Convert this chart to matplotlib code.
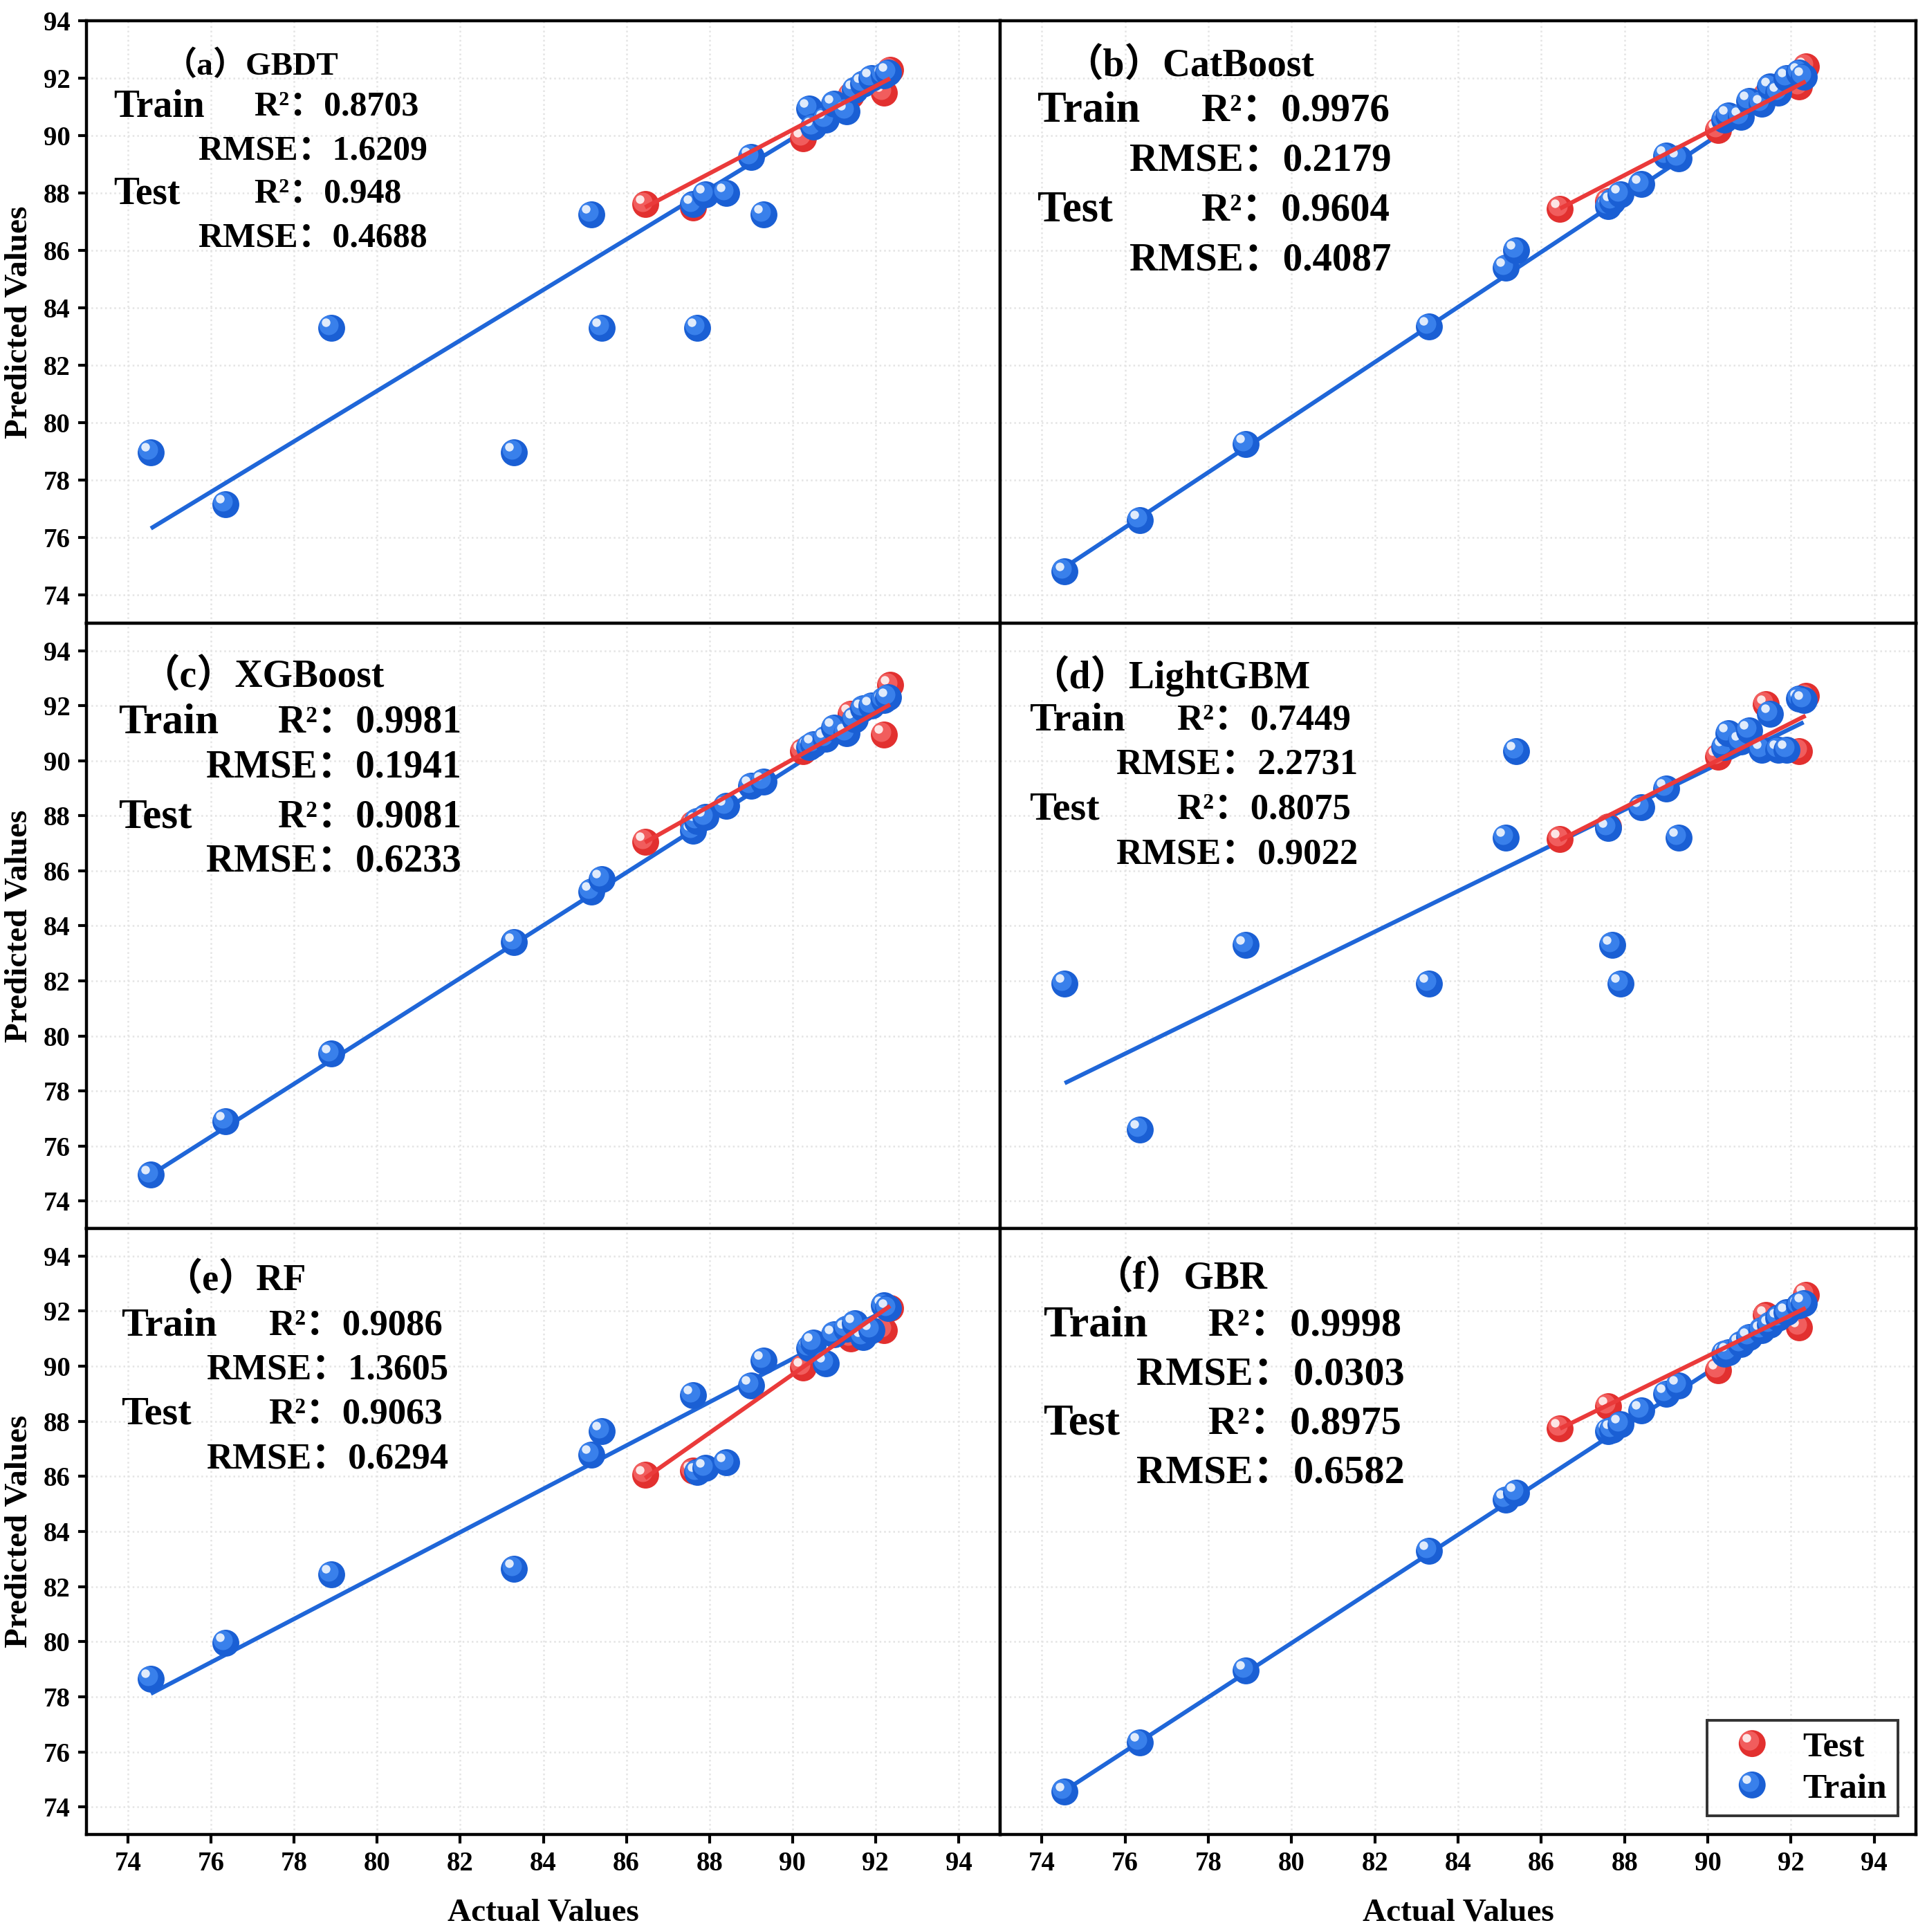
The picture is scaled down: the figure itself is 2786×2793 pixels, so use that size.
import numpy as np
import matplotlib
matplotlib.use("Agg")
import matplotlib.pyplot as plt
from matplotlib.transforms import ScaledTranslation
from matplotlib.legend_handler import HandlerBase
from matplotlib.patches import Circle
from matplotlib.lines import Line2D

plt.rcParams["font.family"] = ["Liberation Serif", "Noto Sans CJK SC"]
plt.rcParams["font.weight"] = "bold"

# ---- data ----
models = ["GBDT", "CatBoost", "XGBoost", "LightGBM", "RF", "GBR"]
letters = ["a", "b", "c", "d", "e", "f"]

train_actual = [74.55, 76.35, 78.9, 83.3, 85.15, 85.4, 87.6, 87.7, 87.9, 88.4, 89.0,
                89.3, 90.4, 90.5, 90.8, 91.0, 91.3, 91.5, 91.7, 91.9, 92.2, 92.3]
test_actual = [86.45, 87.6, 90.25, 91.4, 92.2, 92.35]

gbdt_train = [78.95, 77.15, 83.3, 78.95, 87.25, 83.3, 87.6, 83.3, 87.95, 88.0, 89.25,
              87.25, 90.95, 90.3, 90.55, 91.1, 90.85, 91.6, 91.8, 92.0, 92.1, 92.2]
gbdt_test = [87.6, 87.5, 89.9, 91.4, 91.5, 92.3]

catboost_train = [74.8, 76.6, 79.25, 83.35, 85.4, 86.0, 87.55, 87.7, 87.95, 88.3, 89.3,
                  89.2, 90.55, 90.7, 90.65, 91.2, 91.1, 91.7, 91.5, 92.0, 92.2, 92.05]
catboost_test = [87.45, 87.7, 90.2, 91.4, 91.7, 92.4]

xgb_train = [74.95, 76.9, 79.35, 83.4, 85.25, 85.7, 87.45, 87.8, 87.95, 88.35, 89.1,
             89.25, 90.5, 90.6, 90.8, 91.2, 91.0, 91.5, 91.9, 92.0, 92.2, 92.3]
xgb_test = [87.05, 87.7, 90.35, 91.7, 90.95, 92.75]

lgbm_train = [81.9, 76.6, 83.3, 81.9, 87.2, 90.35, 87.55, 83.3, 81.9, 88.3, 89.0,
              87.2, 90.5, 91.0, 90.7, 91.1, 90.4, 91.7, 90.4, 90.4, 92.25, 92.2]
lgbm_test = [87.15, 87.6, 90.15, 92.05, 90.35, 92.35]

rf_train = [78.65, 79.95, 82.45, 82.65, 86.8, 87.65, 88.95, 86.15, 86.3, 86.5, 89.3,
            90.2, 90.65, 90.85, 90.1, 91.15, 91.35, 91.55, 91.05, 91.3, 92.2, 92.1]
rf_test = [86.05, 86.2, 89.95, 91.0, 91.3, 92.1]

gbr_train = [74.55, 76.35, 78.95, 83.3, 85.15, 85.4, 87.65, 87.7, 87.9, 88.4, 89.0,
             89.3, 90.45, 90.5, 90.8, 91.05, 91.3, 91.5, 91.75, 91.95, 92.2, 92.3]
gbr_test = [87.75, 88.55, 89.85, 91.85, 91.4, 92.6]

train_preds = [gbdt_train, catboost_train, xgb_train, lgbm_train, rf_train, gbr_train]
test_preds = [gbdt_test, catboost_test, xgb_test, lgbm_test, rf_test, gbr_test]

# fitted lines as drawn (slope, intercept)
train_fit = [(0.880, 10.70), (0.960, 3.38), (0.960, 3.38), (0.739, 23.19), (0.787, 19.44), (0.983, 1.31)]
test_fit = [(0.761, 21.71), (0.751, 22.53), (0.849, 13.64), (0.766, 20.90), (1.060, -5.70), (0.742, 23.59)]

r2_train = ["0.8703", "0.9976", "0.9981", "0.7449", "0.9086", "0.9998"]
rmse_train = ["1.6209", "0.2179", "0.1941", "2.2731", "1.3605", "0.0303"]
r2_test = ["0.948", "0.9604", "0.9081", "0.8075", "0.9063", "0.8975"]
rmse_test = ["0.4688", "0.4087", "0.6233", "0.9022", "0.6294", "0.6582"]

ylims = [(73, 94), (73, 94), (73, 95), (73, 95), (73, 95), (73, 95)]

# ---- layout of the annotation block in each panel (axes fraction) ----
# title x, title y, title size, text size, name x, R2 x, RMSE x, row ys
text_layout = [
    (0.085, 0.925, 17, 18, 0.030, 0.183, 0.122, (0.857, 0.784, 0.712, 0.639)),
    (0.070, 0.925, 20, 20.5, 0.041, 0.220, 0.141, (0.850, 0.768, 0.685, 0.603)),
    (0.060, 0.911, 20, 20, 0.035, 0.210, 0.131, (0.836, 0.762, 0.679, 0.606)),
    (0.033, 0.913, 20, 19, 0.032, 0.193, 0.126, (0.840, 0.766, 0.692, 0.618)),
    (0.086, 0.914, 19.5, 19, 0.038, 0.199, 0.131, (0.840, 0.766, 0.693, 0.619)),
    (0.103, 0.917, 20, 21, 0.047, 0.227, 0.149, (0.840, 0.758, 0.677, 0.596)),
]

BLUE = "#1a5fd4"
BLUE_LIGHT = "#3f86f0"
RED = "#e2302f"
RED_LIGHT = "#f46666"
LINE_BLUE = "#1f66d8"
LINE_RED = "#ea3a3a"
MS = 14  # marker diameter in points

fig = plt.figure(figsize=(2786 / 200, 2793 / 200), dpi=200)

col_x = [125 / 2786, 1446 / 2786]
col_w = [1321 / 2786, 1324 / 2786]
row_y = [1 - 901 / 2793, 1 - 1776 / 2793, 1 - 2652 / 2793]
row_h = [871 / 2793, 875 / 2793, 876 / 2793]


def ball(ax, x, y, base, light, z):
    d = MS / 72
    ax.plot([x], [y], "o", ms=MS, mfc=base, mec="none", zorder=z)
    off = ScaledTranslation(-0.10 * d, 0.10 * d, fig.dpi_scale_trans)
    ax.plot([x], [y], "o", ms=MS * 0.72, mfc=light, mec="none", alpha=0.85,
            transform=ax.transData + off, zorder=z + 0.001)
    off2 = ScaledTranslation(-0.20 * d, 0.20 * d, fig.dpi_scale_trans)
    ax.plot([x], [y], "o", ms=MS * 0.32, mfc="white", mec="none", alpha=0.85,
            transform=ax.transData + off2, zorder=z + 0.002)


class BallHandler(HandlerBase):
    def create_artists(self, legend, orig_handle, xdescent, ydescent, width, height,
                       fontsize, trans):
        base, light = orig_handle.get_color(), orig_handle.get_mfc()
        cx = width / 2 - xdescent
        cy = height / 2 - ydescent
        r = MS / 2
        arts = [Circle((cx, cy), r, fc=base, ec="none", transform=trans),
                Circle((cx - 0.1 * 2 * r, cy + 0.1 * 2 * r), r * 0.72, fc=light, ec="none",
                       alpha=0.85, transform=trans),
                Circle((cx - 0.2 * 2 * r, cy + 0.2 * 2 * r), r * 0.32, fc="white", ec="none",
                       alpha=0.85, transform=trans)]
        return arts


ticks = np.arange(74, 95, 2)

for i in range(6):
    row, col = i // 2, i % 2
    ax = fig.add_axes([col_x[col], row_y[row], col_w[col], row_h[row]])
    ax.set_xlim(73, 95)
    ax.set_ylim(*ylims[i])
    ax.set_xticks(ticks)
    ax.set_yticks(ticks)
    ax.grid(True, color="#e4e4e4", linestyle=":", linewidth=0.9, zorder=0)
    ax.set_axisbelow(True)
    for s in ax.spines.values():
        s.set_linewidth(1.6)
    ax.tick_params(direction="out", length=4.5, width=1.5, labelsize=14, pad=4)
    if row != 2:
        ax.tick_params(axis="x", length=0, labelbottom=False)
    if col != 0:
        ax.tick_params(axis="y", length=0, labelleft=False)
    for lab in ax.get_xticklabels() + ax.get_yticklabels():
        lab.set_fontweight("bold")

    # fitted lines
    xs = np.array([min(train_actual), max(train_actual)])
    k, b = train_fit[i]
    ax.plot(xs, k * xs + b, color=LINE_BLUE, lw=2.2, zorder=2, solid_capstyle="butt")
    xt = np.array([min(test_actual), max(test_actual)])
    k, b = test_fit[i]
    ax.plot(xt, k * xt + b, color=LINE_RED, lw=2.2, zorder=6, solid_capstyle="butt")

    for j, (xa, yp) in enumerate(zip(test_actual, test_preds[i])):
        ball(ax, xa, yp, RED, RED_LIGHT, 3 + j * 0.01)
    for j, (xa, yp) in enumerate(zip(train_actual, train_preds[i])):
        ball(ax, xa, yp, BLUE, BLUE_LIGHT, 4 + j * 0.01)

    tx, ty, tfs, fs, nx, r2x, rmx, ys = text_layout[i]
    ax.text(tx, ty, "（" + letters[i] + "）" + models[i], transform=ax.transAxes,
            fontsize=tfs, fontweight="bold", ha="left", va="center", zorder=10)
    ax.text(nx, ys[0], "Train", transform=ax.transAxes, fontsize=fs + 2,
            fontweight="bold", ha="left", va="center", zorder=10)
    ax.text(r2x, ys[0], "R²：" + r2_train[i], transform=ax.transAxes, fontsize=fs,
            fontweight="bold", ha="left", va="center", zorder=10)
    ax.text(rmx, ys[1], "RMSE：" + rmse_train[i], transform=ax.transAxes, fontsize=fs,
            fontweight="bold", ha="left", va="center", zorder=10)
    ax.text(nx, ys[2], "Test", transform=ax.transAxes, fontsize=fs + 2,
            fontweight="bold", ha="left", va="center", zorder=10)
    ax.text(r2x, ys[2], "R²：" + r2_test[i], transform=ax.transAxes, fontsize=fs,
            fontweight="bold", ha="left", va="center", zorder=10)
    ax.text(rmx, ys[3], "RMSE：" + rmse_test[i], transform=ax.transAxes, fontsize=fs,
            fontweight="bold", ha="left", va="center", zorder=10)

    if col == 0:
        ax.text(-0.074, 0.5, "Predicted Values", transform=ax.transAxes, rotation=90,
                fontsize=17, fontweight="bold", ha="center", va="center")
    if row == 2:
        ax.text(0.5, -0.129, "Actual Values", transform=ax.transAxes,
                fontsize=17, fontweight="bold", ha="center", va="center")

    if i == 5:
        h_test = Line2D([], [], color=RED, mfc=RED_LIGHT)
        h_train = Line2D([], [], color=BLUE, mfc=BLUE_LIGHT)
        leg = ax.legend([h_test, h_train], ["Test", "Train"],
                        handler_map={Line2D: BallHandler()},
                        loc="lower right", bbox_to_anchor=(0.98, 0.031),
                        frameon=True, fancybox=False, edgecolor="black",
                        prop={"size": 18.5, "weight": "bold"},
                        handlelength=1.95, handletextpad=0.45, borderpad=0.3,
                        labelspacing=0.25, borderaxespad=0)
        leg.get_frame().set_linewidth(1.4)
        leg.set_zorder(20)

fig.savefig("out.png", dpi=200, facecolor="white")
